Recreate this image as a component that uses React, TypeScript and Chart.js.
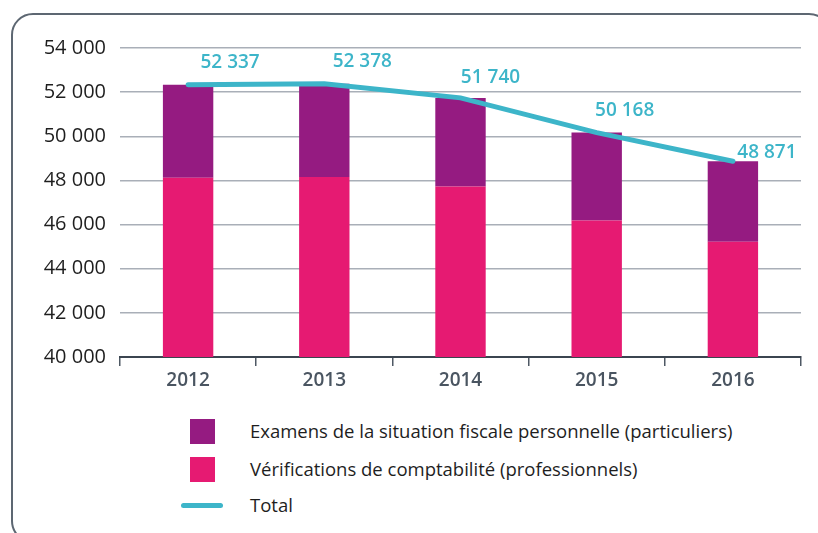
import React, { useEffect, useRef } from "react";
import { Chart, registerables } from "chart.js";

Chart.register(...registerables);

const years = ["2012", "2013", "2014", "2015", "2016"];
const totals = [52337, 52378, 51740, 50168, 48871];
const verifications = [48120, 48150, 47720, 46180, 45220];
const examens = totals.map((t, i) => t - verifications[i]);
const yTicks = [40000, 42000, 44000, 46000, 48000, 50000, 52000, 54000];
const labelOffsets = [
  [42, -22],
  [38, -22],
  [30, -20],
  [28, -22],
  [34, -9],
];

const PURPLE = "#951B81";
const PINK = "#E61A72";
const TEAL = "#3DB5C9";
const FONT = "'Open Sans', sans-serif";

const fmt = (v: number) => String(v).replace(/\B(?=(\d{3})+(?!\d))/g, " ");

const labelPlugin = {
  id: "totalLabels",
  afterDatasetsDraw(chart: any) {
    const meta = chart.getDatasetMeta(2);
    const ctx = chart.ctx;
    ctx.save();
    ctx.fillStyle = TEAL;
    ctx.font = `600 19px ${FONT}`;
    ctx.textAlign = "center";
    ctx.textBaseline = "middle";
    meta.data.forEach((pt: any, i: number) => {
      const [dx, dy] = labelOffsets[i];
      ctx.fillText(fmt(totals[i]), pt.x + dx, pt.y + dy);
    });
    ctx.restore();
  },
};

export default function App() {
  const ref = useRef<HTMLCanvasElement>(null);
  useEffect(() => {
    if (!ref.current) return;
    const chart = new Chart(ref.current, {
      type: "bar",
      data: {
        labels: years,
        datasets: [
          {
            type: "bar",
            label: "Vérifications de comptabilité (professionnels)",
            data: verifications,
            backgroundColor: PINK,
            stack: "bars",
            barPercentage: 0.37,
            categoryPercentage: 1,
            order: 2,
          },
          {
            type: "bar",
            label: "Examens de la situation fiscale personnelle (particuliers)",
            data: examens,
            backgroundColor: PURPLE,
            stack: "bars",
            barPercentage: 0.37,
            categoryPercentage: 1,
            order: 2,
          },
          {
            type: "line",
            label: "Total",
            data: totals,
            borderColor: TEAL,
            borderWidth: 5,
            borderCapStyle: "round",
            pointRadius: 0,
            tension: 0,
            stack: "total",
            order: 1,
          } as any,
        ],
      },
      options: {
        animation: false,
        responsive: false,
        maintainAspectRatio: false,
        layout: { padding: { top: 48, right: 17, left: 0, bottom: 0 } },
        plugins: { legend: { display: false }, tooltip: { enabled: false } },
        scales: {
          x: {
            stacked: true,
            grid: {
              offset: true,
              drawOnChartArea: false,
              drawTicks: true,
              tickLength: 9,
              color: "#4f5964",
              lineWidth: 1.5,
            },
            border: { display: true, color: "#3b4550", width: 2 },
            ticks: {
              color: "#4a5561",
              font: { family: FONT, size: 19, weight: 600 },
              padding: 3,
            },
            afterFit: (s: any) => {
              s.height = 43;
            },
          },
          y: {
            stacked: true,
            min: 40000,
            max: 54000,
            afterBuildTicks: (s: any) => {
              s.ticks = yTicks.map((v) => ({ value: v }));
            },
            grid: { drawTicks: false, color: "#a9afb8", lineWidth: 1.5 },
            border: { display: false },
            ticks: {
              color: "#1e1e1e",
              font: { family: FONT, size: 20 },
              padding: 14,
              callback: (v: any) => fmt(Number(v)),
            },
            afterFit: (s: any) => {
              s.width = 120;
            },
          },
        },
      },
      plugins: [labelPlugin],
    });
    return () => chart.destroy();
  }, []);

  const legendText: React.CSSProperties = {
    position: "absolute",
    left: 250,
    fontFamily: FONT,
    fontSize: 18.5,
    color: "#1e1e1e",
    lineHeight: "20px",
    whiteSpace: "nowrap",
  };

  return (
    <div
      style={{
        position: "fixed",
        left: 0,
        top: 0,
        width: 818,
        height: 533,
        overflow: "hidden",
        background: "#fff",
      }}
    >
      <div
        style={{
          position: "absolute",
          left: 11,
          top: 13,
          width: 820,
          height: 530,
          border: "2px solid #5d6772",
          borderRadius: 22,
          boxSizing: "border-box",
        }}
      />
      <canvas
        ref={ref}
        width={818}
        height={400}
        style={{ position: "absolute", left: 0, top: 0, width: 818, height: 400 }}
      />
      <div style={{ position: "absolute", left: 190, top: 419, width: 25, height: 25, background: PURPLE }} />
      <div style={{ ...legendText, top: 421 }}>Examens de la situation fiscale personnelle (particuliers)</div>
      <div style={{ position: "absolute", left: 190, top: 457, width: 25, height: 25, background: PINK }} />
      <div style={{ ...legendText, top: 459 }}>Vérifications de comptabilité (professionnels)</div>
      <div
        style={{
          position: "absolute",
          left: 181,
          top: 503,
          width: 42,
          height: 5,
          borderRadius: 3,
          background: TEAL,
        }}
      />
      <div style={{ ...legendText, top: 495 }}>Total</div>
    </div>
  );
}
